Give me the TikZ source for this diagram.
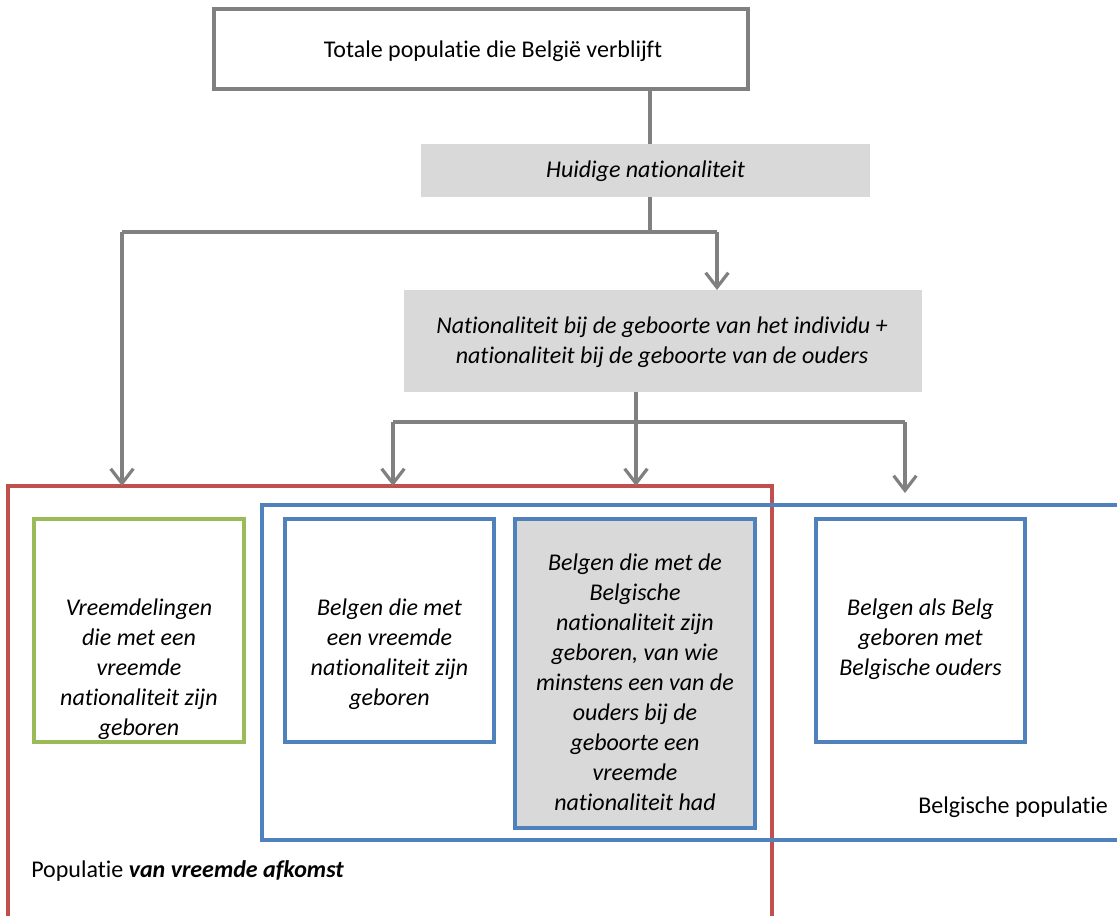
\documentclass[tikz,border=0pt]{standalone}
\usepackage{fontspec}
\setmainfont{Carlito}[Ligatures=NoCommon]
\usetikzlibrary{arrows.meta}
\definecolor{cred}{HTML}{C0504D}
\definecolor{cblue}{HTML}{4F81BD}
\definecolor{cgreen}{HTML}{9BBB59}
\definecolor{cgray}{HTML}{808080}
\definecolor{cfill}{HTML}{D9D9D9}
\tikzset{
  conn/.style={draw=cgray, line width=2.4pt},
  arr/.style={conn, -{Straight Barb[length=11pt,width=17pt,line width=2.4pt]}},
  graybox/.style={fill=cfill, draw=none},
  frame/.style={line width=2.6pt},
  txt/.style={inner sep=0pt, align=center, font=\fontsize{18}{22.5}\selectfont},
  boxnode/.style={inner sep=0pt, outer sep=0pt}
}
\begin{document}
\begin{tikzpicture}[x=0.75pt,y=-0.75pt]
\clip (0,0) rectangle (1117,915);
\fill[white] (0,0) rectangle (1117,915);

% top box
\draw[draw=cgray, line width=2.4pt, fill=white] (214,9) rectangle (748,89);
\coordinate (topS) at (650,89);
\node[txt, anchor=base] (toptxt) at (493,57) {Totale populatie die België verblijft};

% Huidige nationaliteit
\fill[graybox] (421,144) rectangle (870,197);
\coordinate (hnN) at (650,144);
\coordinate (hnS) at (650,197);
\node[txt, anchor=base] (hntxt) at (645.5,177) {\itshape Huidige nationaliteit};

% Nationaliteit bij geboorte
\fill[graybox] (404,290) rectangle (922,392);
\coordinate (nbN) at (717,290);
\coordinate (nbS) at (636,392);
\node[txt, anchor=north] (nbtxt) at (662,312) {\itshape\strut Nationaliteit bij de geboorte van het individu +\\ \itshape nationaliteit bij de geboorte van de ouders};

% red and blue frames
\draw[cred, frame] (8,486) rectangle (772,960);
\draw[cblue, frame] (262,505) rectangle (1160,840);
\coordinate (redT1) at (122,486);
\coordinate (redT2) at (393,486);
\coordinate (redT3) at (636,486);
\coordinate (blueT) at (905,493);

% inner boxes
\draw[cgreen, frame] (34,519) rectangle (244,742);
\node[txt, anchor=north] (g) at (139,594) {\itshape\strut Vreemdelingen\\ \itshape die met een\\ \itshape vreemde\\ \itshape nationaliteit zijn\\ \itshape geboren};

\draw[cblue, frame] (285,519) rectangle (494,742);
\node[txt, anchor=north] (b1) at (389.5,594) {\itshape\strut Belgen die met\\ \itshape een vreemde\\ \itshape nationaliteit zijn\\ \itshape geboren};

\draw[cblue, frame, fill=cfill] (515,519) rectangle (755,828);
\node[txt, anchor=north] (b2) at (635,549) {\itshape\strut Belgen die met de\\ \itshape Belgische\\ \itshape nationaliteit zijn\\ \itshape geboren, van wie\\ \itshape minstens een van de\\ \itshape ouders bij de\\ \itshape geboorte een\\ \itshape vreemde\\ \itshape nationaliteit had};

\draw[cblue, frame] (816,519) rectangle (1025,742);
\node[txt, anchor=north] (b3) at (920.5,594) {\itshape\strut Belgen als Belg\\ \itshape geboren met\\ \itshape Belgische ouders};

\node[txt, anchor=base west] (bp) at (918,813) {Belgische populatie};
\node[txt, anchor=base west] (pv) at (31,877) {Populatie \textbf{\itshape van vreemde afkomst}};

% connectors
\coordinate (j1) at (650,232);
\coordinate (jl) at (122,232);
\coordinate (jr) at (717,232);
\coordinate (j2) at (636,422);
\coordinate (kl) at (393,422);
\coordinate (kr) at (905,422);
\draw[conn] (topS) -- (hnN);
\draw[conn] (hnS) -- (j1);
\draw[conn] (jl) -- (jr);
\draw[arr] (jl) -- (redT1);
\draw[arr] (jr) -- (nbN);
\draw[conn] (nbS) -- (j2);
\draw[conn] (kl) -- (kr);
\draw[arr] (kl) -- (redT2);
\draw[arr] (j2) -- (redT3);
\draw[arr] (kr) -- (blueT);
\end{tikzpicture}
\end{document}
